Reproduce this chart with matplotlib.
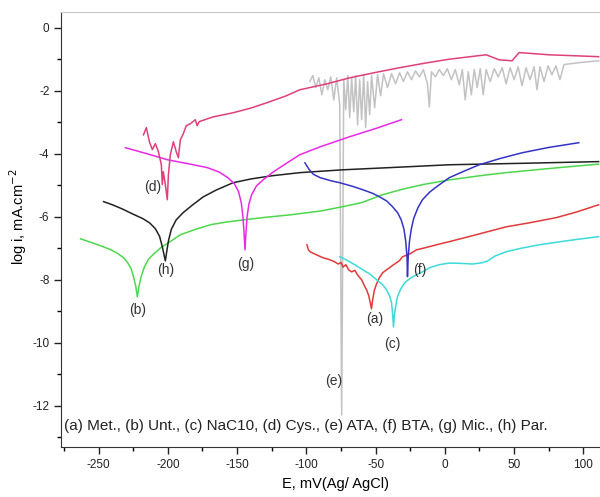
import matplotlib
matplotlib.use("Agg")
import matplotlib.pyplot as plt
from matplotlib.ticker import MultipleLocator

plt.rcParams['font.family'] = ['Liberation Sans', 'DejaVu Sans']
plt.rcParams['axes.unicode_minus'] = False

# (a) Met.
e_met = [-99.6, -98.5, -97.0, -93.0, -88.0, -84.0, -80.0, -77.0, -75.0, -73.5, -71.5,
         -69.5, -67.3, -65.0, -63.0, -60.1, -58.0, -56.5, -55.0, -54.0, -53.0, -52.0,
         -51.0, -49.5, -47.5, -45.0, -42.0, -40.0, -37.0, -33.0, -30.6, -25.0, -20.5,
         -13.0, -6.1, 3.2, 20.0, 44.2, 60.0, 80.2, 95.0, 111.0]
l_met = [-6.89, -7.05, -7.12, -7.20, -7.30, -7.35, -7.42, -7.50, -7.45, -7.60, -7.52,
         -7.68, -7.75, -7.70, -7.85, -8.00, -8.20, -8.32, -8.50, -8.70, -8.92, -8.60,
         -8.35, -8.15, -7.95, -7.78, -7.68, -7.62, -7.52, -7.40, -7.27, -7.17, -7.05,
         -6.97, -6.89, -6.79, -6.60, -6.32, -6.20, -6.03, -5.85, -5.62]

# (b) Unt.
e_unt = [-263.0, -255.0, -248.0, -241.0, -236.0, -232.0, -229.0, -226.5, -224.8, -223.2,
         -222.0, -220.8, -219.3, -217.0, -214.0, -210.0, -205.0, -198.0, -191.0, -180.0,
         -169.0, -158.0, -145.7, -130.0, -111.9, -90.0, -73.7, -60.0, -45.0, -30.0,
         -16.0, 3.2, 25.0, 44.2, 80.0, 111.0]
l_unt = [-6.70, -6.82, -6.93, -7.05, -7.17, -7.30, -7.46, -7.65, -7.90, -8.20,
         -8.54, -8.20, -7.90, -7.60, -7.35, -7.17, -6.98, -6.78, -6.57, -6.40,
         -6.25, -6.17, -6.10, -6.02, -5.94, -5.82, -5.68, -5.55, -5.30, -5.12,
         -4.98, -4.83, -4.70, -4.60, -4.45, -4.33]

# (c) NaC10
e_nac = [-75.9, -72.0, -68.7, -64.0, -59.4, -54.0, -49.3, -45.0, -42.1, -40.0, -38.5,
         -37.7, -37.1, -36.4, -35.3, -34.2, -32.0, -29.1, -25.0, -20.5, -15.0, -11.2,
         -4.0, 3.2, 12.0, 20.0, 27.0, 31.0, 36.0, 44.2, 55.0, 68.0, 90.0, 111.0]
l_nac = [-7.27, -7.35, -7.43, -7.55, -7.68, -7.82, -8.00, -8.15, -8.32, -8.50, -8.73,
         -9.10, -9.50, -9.10, -8.78, -8.54, -8.30, -8.10, -7.95, -7.84, -7.72, -7.62,
         -7.52, -7.47, -7.48, -7.50, -7.46, -7.40, -7.25, -7.11, -7.00, -6.89, -6.75, -6.63]

# (d) Cys.
e_cys = [-217.6, -215.5, -213.3, -211.2, -209.0, -206.8, -204.7, -204.0, -203.3, -201.8,
         -200.4, -199.6, -198.2, -196.0, -193.9, -192.4, -191.0, -188.9, -186.7, -183.8,
         -180.2, -178.8, -177.3, -167.3, -152.9, -140.0, -128.4, -115.0, -104.7, -85.0,
         -68.7, -50.0, -32.7, -15.0, 3.2, 29.8, 39.2, 48.5, 53.6, 75.2, 111.0]
l_cys = [-3.40, -3.17, -3.62, -3.87, -3.68, -3.94, -4.35, -4.98, -4.57, -4.98,
         -5.46, -4.67, -4.03, -3.62, -3.94, -4.13, -3.56, -3.37, -3.11, -3.05,
         -2.92, -3.11, -2.98, -2.83, -2.70, -2.55, -2.38, -2.17, -1.97, -1.78,
         -1.59, -1.42, -1.27, -1.13, -1.00, -0.86, -1.02, -1.05, -0.79, -0.86, -0.92]

# (e) ATA
e_ata = [-97.5, -95.3, -93.2, -91.0, -88.8, -86.7, -84.5, -82.4, -80.2, -78.1, -75.9,
         -74.5, -73.0, -71.6, -70.1, -68.7, -67.3, -65.8, -64.4, -63.0, -61.5, -60.1,
         -58.6, -57.2, -55.8, -54.3, -52.9, -50.7, -48.6, -46.4, -44.3, -41.4, -38.5,
         -35.6, -32.7, -29.9, -27.0, -24.1, -21.2, -18.4, -15.5, -12.6, -11.2, -9.7,
         -6.8, -4.0, -1.1, 1.8, 4.7, 7.5, 10.4, 12.6, 14.7, 16.9, 19.1, 21.2, 23.4,
         25.5, 27.7, 29.8, 32.7, 35.6, 38.5, 41.4, 44.2, 47.1, 50.0, 52.9, 55.7, 58.6,
         61.5, 64.4, 66.5, 68.7, 71.6, 74.5, 77.3, 80.2, 83.1, 86.0, 96.7, 111.1]
l_ata = [-1.71, -1.52, -1.90, -1.59, -2.13, -1.65, -1.97, -1.56, -2.29, -1.59, -2.44,
         -12.29, -1.65, -2.60, -1.52, -2.86, -1.59, -2.67, -1.52, -3.08, -1.65, -2.92,
         -1.49, -3.17, -1.71, -2.76, -1.52, -2.54, -1.49, -2.16, -1.46, -1.90, -1.46,
         -1.78, -1.43, -1.71, -1.40, -1.65, -1.37, -1.56, -1.33, -1.78, -2.51, -1.40,
         -1.56, -1.33, -1.52, -1.30, -1.65, -1.33, -1.81, -1.33, -2.29, -1.40, -2.13,
         -1.33, -1.90, -1.30, -2.13, -1.33, -1.71, -1.30, -1.56, -1.27, -1.78, -1.27,
         -1.65, -1.24, -1.84, -1.27, -1.65, -1.24, -1.97, -1.24, -1.71, -1.21, -1.49,
         -1.21, -1.65, -1.17, -1.11, -1.05]

# (f) BTA
e_bta = [-101.0, -98.0, -95.0, -90.0, -82.0, -75.9, -67.0, -59.4, -52.0, -47.1, -42.0,
         -37.8, -34.0, -31.5, -29.5, -28.2, -27.3, -27.0, -26.5, -25.6, -24.3, -22.5,
         -19.5, -16.2, -11.0, -6.1, 3.2, 14.0, 24.8, 40.0, 55.7, 75.0, 96.7]
l_bta = [-4.29, -4.50, -4.65, -4.76, -4.86, -4.92, -5.03, -5.14, -5.26, -5.37, -5.50,
         -5.68, -5.88, -6.10, -6.40, -6.80, -7.30, -7.90, -7.30, -6.80, -6.40, -6.05,
         -5.72, -5.46, -5.22, -5.05, -4.76, -4.55, -4.35, -4.15, -3.97, -3.80, -3.65]

# (g) Mic.
e_mic = [-230.6, -215.0, -200.4, -185.0, -171.6, -163.0, -157.0, -152.0, -149.0, -147.0,
         -145.8, -145.0, -144.3, -143.6, -142.8, -141.5, -139.5, -136.0, -131.0, -124.0,
         -116.0, -110.0, -104.7, -90.0, -68.7, -50.0, -31.3]
l_mic = [-3.81, -4.00, -4.19, -4.32, -4.44, -4.58, -4.75, -4.95, -5.20, -5.55,
         -6.00, -6.50, -7.05, -6.50, -6.00, -5.60, -5.30, -5.02, -4.82, -4.58,
         -4.35, -4.18, -4.03, -3.78, -3.46, -3.20, -2.92]

# (h) Par.
e_par = [-246.4, -240.0, -233.0, -225.0, -218.0, -213.0, -209.0, -206.0, -204.0, -202.8,
         -201.8, -200.8, -199.5, -197.5, -194.0, -189.0, -182.0, -174.5, -165.0, -152.9,
         -140.0, -125.0, -104.7, -73.7, -30.0, 3.2, 60.0, 111.0]
l_par = [-5.52, -5.62, -5.75, -5.92, -6.06, -6.20, -6.38, -6.62, -6.95, -7.20,
         -7.40, -7.10, -6.75, -6.40, -6.10, -5.87, -5.62, -5.37, -5.15, -4.92,
         -4.80, -4.70, -4.60, -4.51, -4.42, -4.35, -4.30, -4.25]

curves = [
    (e_ata, l_ata, '#c2c2c2', '(e)', -80.5, -11.2),
    (e_unt, l_unt, '#4cd84c', '(b)', -222.0, -8.95),
    (e_par, l_par, '#222222', '(h)', -201.8, -7.70),
    (e_mic, l_mic, '#e82ae8', '(g)', -143.5, -7.50),
    (e_met, l_met, '#e03a3a', '(a)', -50.7, -9.25),
    (e_nac, l_nac, '#3cdada', '(c)', -37.8, -10.05),
    (e_bta, l_bta, '#3434c4', '(f)', -18.4, -7.70),
    (e_cys, l_cys, '#e0407a', '(d)', -211.0, -5.05),
]

fig = plt.figure(figsize=(6.0, 4.97), dpi=100)
ax = fig.add_axes([0.102, 0.101, 0.898, 0.875])

for e, l, col, lab, tx, ty in curves:
    ax.plot(e, l, color=col, lw=1.1)
    ax.text(tx, ty, lab, ha='center', va='center', fontsize=10, color='#333333')

ax.text(-275, -12.65, "(a) Met., (b) Unt., (c) NaC10, (d) Cys., (e) ATA, (f) BTA, (g) Mic., (h) Par.",
        ha='left', va='center', fontsize=11, color='#222222')

ax.set_xlim(-277, 112)
ax.set_ylim(-13.3, 0.5)
ax.xaxis.set_major_locator(MultipleLocator(50))
ax.xaxis.set_minor_locator(MultipleLocator(25))
ax.yaxis.set_major_locator(MultipleLocator(2))
ax.yaxis.set_minor_locator(MultipleLocator(1))
ax.tick_params(which='major', direction='out', length=5, width=1, labelsize=8.5, colors='#222222')
ax.tick_params(which='minor', direction='out', length=3, width=1)
ax.spines['right'].set_visible(False)
ax.spines['top'].set_color('#c8c8c8')
ax.spines['left'].set_color('#333333')
ax.spines['bottom'].set_color('#333333')

ax.set_xlabel("E, mV(Ag/ AgCl)", fontsize=10.5)
ax.set_ylabel("log i, mA.cm$^{-2}$", fontsize=10.5)
ax.xaxis.set_label_coords(0.51, -0.070)
ax.yaxis.set_label_coords(-0.060, 0.53)

fig.savefig("out.png", dpi=100)
